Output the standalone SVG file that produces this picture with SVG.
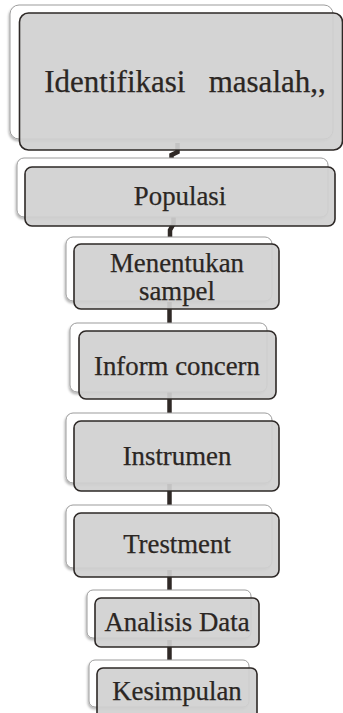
<svg xmlns="http://www.w3.org/2000/svg" width="343" height="713" viewBox="0 0 343 713">
  <defs>
    <filter id="sh" x="-10%" y="-10%" width="120%" height="130%">
      <feDropShadow dx="-1" dy="2" stdDeviation="1.2" flood-color="#000" flood-opacity="0.28"/>
    </filter>
    <style>
      .back{fill:#ffffff;stroke:#9c9c9c;stroke-width:1;filter:url(#sh)}
      .front{fill:#d0d0d0;fill-opacity:0.92;stroke:#2d2826;stroke-width:1.6}
      .lbl{font-family:"Liberation Serif","Times New Roman",serif;font-size:26.8px;fill:#2b2623;stroke:#2b2623;stroke-width:0.25;text-anchor:middle}
      .con{fill:none;stroke:#2f2926;stroke-width:4.5}
    </style>
  </defs>
  <rect width="343" height="713" fill="#ffffff"/>
  <g id="connectors">
    <path class="con" d="M177.5,143 V152 L171.5,155 V159"/>
    <path class="con" d="M173.5,217 V224 L170,230 V238"/>
    <path class="con" d="M169.5,302 V324"/>
    <path class="con" d="M169.5,392 V414"/>
    <path class="con" d="M169.5,484 V506"/>
    <path class="con" d="M169.5,570 V591"/>
    <path class="con" d="M169.5,640 V661"/>
  </g>
  <g id="n1">
    <rect class="back" x="10" y="5" width="323" height="134" rx="9"/>
    <rect class="front" x="19.5" y="13" width="323" height="137" rx="9"/>
    <text class="lbl" x="185" y="92" style="font-size:31px" xml:space="preserve">Identifikasi   masalah,,</text>
  </g>
  <g id="n2">
    <rect class="back" x="17" y="158" width="311" height="59" rx="7"/>
    <rect class="front" x="25" y="167" width="310" height="59" rx="7"/>
    <text class="lbl" x="180" y="205">Populasi</text>
  </g>
  <g id="n3">
    <rect class="back" x="66" y="237" width="206" height="64" rx="7"/>
    <rect class="front" x="74" y="244" width="205" height="65" rx="7"/>
    <text class="lbl" x="177" y="272">Menentukan</text>
    <text class="lbl" x="177" y="300">sampel</text>
  </g>
  <g id="n4">
    <rect class="back" x="70" y="323" width="197" height="69" rx="7"/>
    <rect class="front" x="79" y="331" width="197" height="68" rx="7"/>
    <text class="lbl" x="177" y="375">Inform concern</text>
  </g>
  <g id="n5">
    <rect class="back" x="66" y="413" width="206" height="70" rx="7"/>
    <rect class="front" x="74" y="421" width="205" height="70" rx="7"/>
    <text class="lbl" x="177" y="465">Instrumen</text>
  </g>
  <g id="n6">
    <rect class="back" x="66" y="505" width="206" height="63" rx="7"/>
    <rect class="front" x="74" y="513" width="205" height="64" rx="7"/>
    <text class="lbl" x="177" y="553">Trestment</text>
  </g>
  <g id="n7">
    <rect class="back" x="87" y="590" width="164" height="48" rx="6"/>
    <rect class="front" x="95" y="598" width="164" height="49" rx="6"/>
    <text class="lbl" x="177" y="631">Analisis Data</text>
  </g>
  <g id="n8">
    <rect class="back" x="89" y="660" width="160" height="47" rx="6"/>
    <rect class="front" x="97" y="668" width="160" height="52" rx="6"/>
    <text class="lbl" x="177" y="700">Kesimpulan</text>
  </g>
</svg>
